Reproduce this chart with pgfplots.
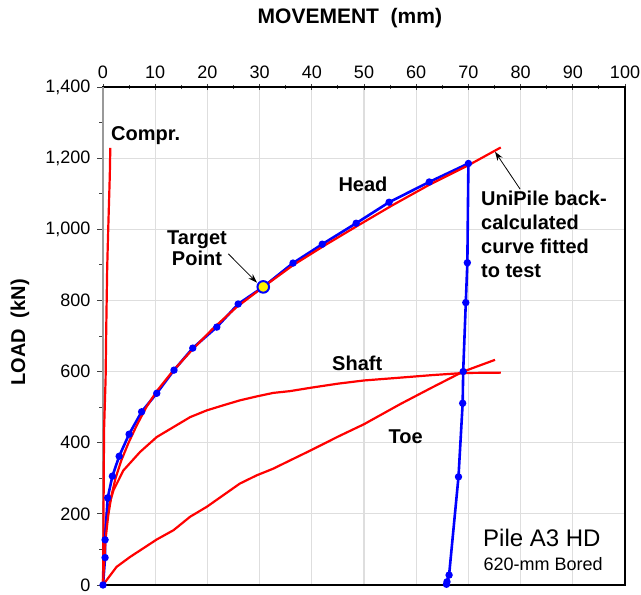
\documentclass[border=0pt]{standalone}
\usepackage{pgfplots}
\pgfplotsset{compat=1.18}
\usepackage{fontspec}
\setmainfont{Liberation Sans}
\usetikzlibrary{arrows.meta}

% Load-movement curves, pile A3 HD
\pgfplotstableread{
x y
0 0
0.4 77
0.4 127
0.9 245
1.8 306
3.1 362
5.0 424
7.4 487
10.3 539
13.6 604
17.2 666
21.8 725
25.9 790
30.7 838
36.4 905
42.0 958
48.5 1017
54.8 1076
62.5 1133
70.0 1185
69.8 906
69.5 794
69.0 600
68.9 511
68.1 304
66.3 28
65.9 9
65.8 2
}\headtest

\pgfplotstableread{
x y
0 0
0.2 60
0.5 130
1.0 195
1.6 250
2.4 300
3.5 350
4.9 400
6.5 450
8.3 500
10.3 545
13.3 600
17.0 660
21.0 720
25.5 780
30.7 838
36.5 900
42.5 955
49.0 1012
55.5 1068
62.5 1125
70.0 1180
76.2 1230
}\headcalc

\pgfplotstableread{
x y
0 0
0.1 89
0.7 201
2.0 266
3.9 322
7.1 374
10.3 416
13.5 444
16.7 472
19.9 491
23.0 505
26.2 519
29.4 530
32.6 540
35.8 545
40.0 555
45.0 566
50.0 575
57.0 583
63.0 590
69.0 596
76.2 597
}\shaft

\pgfplotstableread{
x y
0 0
2.6 51
5.2 79
7.7 103
10.3 128
13.5 154
16.7 192
19.9 220
23.0 252
26.2 285
29.4 308
32.6 327
35.8 350
40.0 380
45.0 417
50.0 452
57.0 509
63.0 555
69.0 600
75.1 633
}\toe

\pgfplotstableread{
x y
0 0
0.1 200
0.2 435
0.5 580
0.6 700
0.8 890
1.0 1000
1.2 1100
1.3 1150
1.4 1229
}\compr

\begin{document}
\begin{tikzpicture}
\begin{axis}[
  scale only axis,
  width=522pt, height=498pt,
  xmin=0, xmax=100, ymin=0, ymax=1400,
  xtick={0,10,...,100}, ytick={0,200,...,1400},
  minor x tick num=1, minor y tick num=1,
  xtick pos=upper, ytick pos=left,
  xticklabel pos=upper,
  xtick align=center, ytick align=outside,
  major tick length=6pt, minor tick length=4pt,
  tick style={black!75, line width=0.9pt},
  grid=major,
  major grid style={draw=black!13, line width=1.2pt},
  axis line style={black, line width=1.2pt},
  ticklabel style={font=\fontsize{18}{20}\selectfont},
  /pgf/number format/assume math mode=true,
  /pgf/number format/1000 sep={,},
  xticklabel style={yshift=2pt},
  yticklabel style={xshift=-3pt},
  clip=false,
]
\coordinate (ll) at (rel axis cs:0,0);
\coordinate (ur) at (rel axis cs:1,1);
% left spine is drawn in grey
\draw[black!40, line width=2pt] (rel axis cs:0,0) -- (rel axis cs:0,1);

\addplot[red, line width=2.2pt] table {\toe};
\addplot[red, line width=2.2pt] table {\shaft};
\addplot[red, line width=2.2pt] table {\compr};
\addplot[blue, line width=2.6pt, mark=*, mark size=2.3pt] table {\headtest};
\addplot[red, line width=2.2pt] table {\headcalc};
\addplot[only marks, mark=*, mark size=5.8pt,
  mark options={fill=yellow, draw=blue, line width=2pt}] coordinates {(30.7,838)};

\begin{scope}[font=\fontsize{20}{24}\selectfont\bfseries]
\node[anchor=base west] at (axis cs:0.9,1249) {Compr.};
\node at (axis cs:49.8,1125) {Head};
\node at (axis cs:48.7,624) {Shaft};
\node at (axis cs:58.0,416) {Toe};
\node[align=center, font=\fontsize{20}{21}\selectfont\bfseries] at (axis cs:18.0,947) {Target\\Point};
\node[align=left, anchor=north west, inner sep=0pt] at (axis cs:72.4,1108)
  {UniPile back-\\calculated\\curve fitted\\to test};
\end{scope}
\draw[-{Stealth[length=9pt,width=6pt]}, line width=0.8pt] (axis cs:24.0,931) -- (axis cs:29.5,850);
\draw[-{Stealth[length=9pt,width=6pt]}, line width=0.8pt] (axis cs:79.9,1113) -- (axis cs:75.1,1218);

\node[anchor=base east, font=\fontsize{24}{26}\selectfont] at (axis cs:96.0,108) {Pile A3 HD};
\node[anchor=base east, font=\fontsize{18}{20}\selectfont] at (axis cs:96.4,42) {620-mm Bored};

\node[font=\fontsize{21}{24}\selectfont\bfseries] at (axis cs:47.3,1594) {MOVEMENT\ \ (mm)};
\node[rotate=90, font=\fontsize{20}{24}\selectfont\bfseries] at (axis cs:-15.9,710) {LOAD\ \ (kN)};
\end{axis}
\pgfresetboundingbox
\path ([shift={(-103pt,-9pt)}]ll) rectangle ([shift={(16pt,87pt)}]ur);
\end{tikzpicture}
\end{document}
